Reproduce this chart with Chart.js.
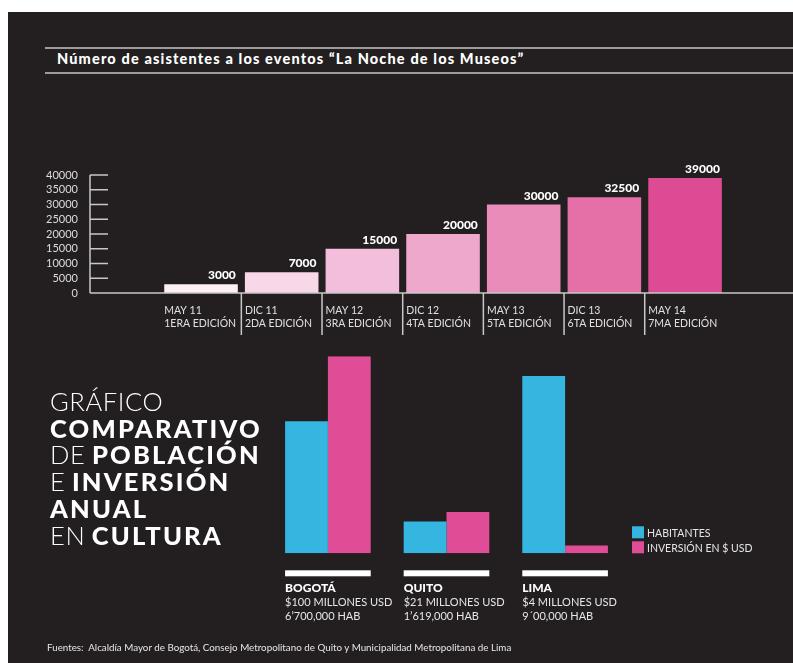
<!DOCTYPE html>
<html>
<head>
<meta charset="utf-8">
<script src="https://cdn.jsdelivr.net/npm/chart.js@4.4.1/dist/chart.umd.min.js"></script>
<style>
  html, body { margin: 0; padding: 0; background: #fff; width: 793px; height: 663px; overflow: hidden; font-family: Lato, sans-serif; }
  #panel { position: absolute; left: 8px; top: 12px; width: 785px; height: 651px; background: #231f20; }
  .rule { position: absolute; left: 45px; width: 748px; height: 2px; background: #9b9b9b; }
  #title { position: absolute; left: 57px; top: 50px; color: #fff; font-weight: 900; font-size: 14.5px; letter-spacing: 1.15px; white-space: nowrap; }
  #topChart { position: absolute; left: 0; top: 150px; }
  #bottomChart { position: absolute; left: 0; top: 340px; }
  #side { position: absolute; left: 50px; top: 388px; color: #fff; font-size: 25.5px; line-height: 26.7px; white-space: nowrap; }
  #side b { font-weight: 900; letter-spacing: 2.2px; }
  #side span { font-weight: 300; letter-spacing: 0.6px; }
  #foot { position: absolute; left: 47px; top: 641px; color: #e6e6e6; font-size: 9.8px; white-space: nowrap; }
</style>
</head>
<body>
<div id="panel"></div>
<div class="rule" style="top:47px"></div>
<div class="rule" style="top:72px"></div>
<div id="title">Número de asistentes a los eventos “La Noche de los Museos”</div>
<canvas id="topChart" width="793" height="200"></canvas>
<canvas id="bottomChart" width="793" height="300"></canvas>
<div id="side">
  <span>GRÁFICO</span><br>
  <b>COMPARATIVO</b><br>
  <span>DE</span> <b>POBLACIÓN</b><br>
  <span>E</span> <b>INVERSIÓN</b><br>
  <b>ANUAL</b><br>
  <span>EN</span> <b>CULTURA</b>
</div>
<div id="foot">Fuentes:&nbsp; Alcaldía Mayor de Bogotá, Consejo Metropolitano de Quito y Municipalidad Metropolitana de Lima</div>
<script>
// asistentes a "La Noche de los Museos"
const fechas = ["MAY 11", "DIC 11", "MAY 12", "DIC 12", "MAY 13", "DIC 13", "MAY 14"];
const ediciones = ["1ERA EDICIÓN", "2DA EDICIÓN", "3RA EDICIÓN", "4TA EDICIÓN", "5TA EDICIÓN", "6TA EDICIÓN", "7MA EDICIÓN"];
const asistentes = [3000, 7000, 15000, 20000, 30000, 32500, 39000];
const yTicks = [0, 5000, 10000, 15000, 20000, 25000, 30000, 35000, 40000];

// población vs inversión
const ciudades = ["BOGOTÁ", "QUITO", "LIMA"];
const inversionTxt = ["$100 MILLONES USD", "$21 MILLONES USD", "$4 MILLONES USD"];
const habitantesTxt = ["6’700,000 HAB", "1’619,000 HAB", "9´00,000 HAB"];
const habitantes = [6700000, 1619000, 9000000];
const inversionMillones = [100, 21, 4];
const series = ["HABITANTES", "INVERSIÓN EN $ USD"];

const pinks = ["#fcf0f6", "#f7d7e8", "#f2bedb", "#eea8cc", "#e98cba", "#e470a7", "#de4b95"];
const CYAN = "#35b6e0";
const MAGENTA = "#de4d96";
const FONT = "Lato, sans-serif";

const topDecor = {
  id: "topDecor",
  afterDatasetsDraw(chart) {
    const { ctx, scales: { x, y } } = chart;
    const y0 = y.getPixelForValue(0);
    const axisX = 90;
    ctx.save();
    ctx.strokeStyle = "#c8c8c8";
    ctx.lineWidth = 1.5;
    ctx.beginPath();
    ctx.moveTo(axisX, y.getPixelForValue(40000));
    ctx.lineTo(axisX, y0);
    yTicks.forEach(v => {
      if (v === 0) return;
      const py = y.getPixelForValue(v);
      ctx.moveTo(axisX, py);
      ctx.lineTo(axisX + 18, py);
    });
    ctx.moveTo(axisX, y0);
    ctx.lineTo(chart.width, y0);
    for (let i = 1; i < fechas.length; i++) {
      const sx = (x.getPixelForValue(i) + x.getPixelForValue(i + 1)) / 2;
      ctx.moveTo(sx, y0);
      ctx.lineTo(sx, y0 + 42);
    }
    ctx.stroke();

    const bars = chart.getDatasetMeta(0).data;
    fechas.forEach((f, i) => {
      const bar = bars[i + 1];
      const left = bar.x - bar.width / 2;
      const right = bar.x + bar.width / 2;
      ctx.fillStyle = "#e0e0e0";
      ctx.font = "10.5px " + FONT;
      ctx.textAlign = "left";
      ctx.textBaseline = "middle";
      ctx.fillText(f, left, y0 + 18);
      ctx.fillText(ediciones[i], left, y0 + 31);
      ctx.fillStyle = "#ffffff";
      ctx.font = "900 12px " + FONT;
      ctx.textAlign = "right";
      ctx.textBaseline = "alphabetic";
      ctx.fillText(String(asistentes[i]), right - 2, bar.y - 5);
    });
    ctx.restore();
  }
};

new Chart(document.getElementById("topChart"), {
  type: "bar",
  data: {
    labels: ["", ...fechas],
    datasets: [{
      data: [null, ...asistentes],
      backgroundColor: ["transparent", ...pinks],
      borderWidth: 0,
      barPercentage: 0.912,
      categoryPercentage: 1.0,
    }],
  },
  options: {
    responsive: false,
    animation: false,
    layout: { padding: { top: 25, bottom: 57, right: 67.6, left: 0 } },
    plugins: { legend: { display: false }, tooltip: { enabled: false } },
    scales: {
      x: { display: false },
      y: {
        min: 0, max: 40000,
        afterFit: s => { s.width = 80; },
        afterBuildTicks: s => { s.ticks = yTicks.map(v => ({ value: v })); },
        grid: { display: false, drawTicks: false },
        border: { display: false },
        ticks: {
          autoSkip: false,
          padding: 2,
          color: "#dcdcdc",
          font: { family: FONT, size: 11 },
          callback: v => String(v),
        },
      },
    },
  },
  plugins: [topDecor],
});

const bottomDecor = {
  id: "bottomDecor",
  afterDatasetsDraw(chart) {
    const { ctx, chartArea } = chart;
    const hab = chart.getDatasetMeta(0).data;
    const inv = chart.getDatasetMeta(1).data;
    const base = chartArea.bottom;
    ctx.save();
    ciudades.forEach((c, i) => {
      const left = hab[i].x - hab[i].width / 2;
      const right = inv[i].x + inv[i].width / 2;
      ctx.fillStyle = "#ffffff";
      ctx.fillRect(left, base + 17, right - left, 6);
      ctx.textAlign = "left";
      ctx.textBaseline = "middle";
      ctx.font = "900 12px " + FONT;
      ctx.fillText(c, left, base + 35);
      ctx.fillStyle = "#e6e6e6";
      ctx.font = "11px " + FONT;
      ctx.fillText(inversionTxt[i], left, base + 49.5);
      ctx.fillText(habitantesTxt[i], left, base + 63.5);
    });
    // leyenda
    [CYAN, MAGENTA].forEach((col, k) => {
      const top = base - 27 + k * 15;
      ctx.fillStyle = col;
      ctx.fillRect(632, top, 12, 12);
      ctx.fillStyle = "#e6e6e6";
      ctx.font = "10.5px " + FONT;
      ctx.textAlign = "left";
      ctx.textBaseline = "middle";
      ctx.fillText(series[k], 647, top + 7);
    });
    ctx.restore();
  }
};

new Chart(document.getElementById("bottomChart"), {
  type: "bar",
  data: {
    labels: ciudades,
    datasets: [
      { label: series[0], data: habitantes, yAxisID: "yHab", backgroundColor: CYAN, borderWidth: 0 },
      { label: series[1], data: inversionMillones, yAxisID: "yInv", backgroundColor: MAGENTA, borderWidth: 0 },
    ],
  },
  options: {
    responsive: false,
    animation: false,
    datasets: { bar: { categoryPercentage: 0.722, barPercentage: 1.0 } },
    layout: { padding: { top: 16.3, bottom: 86.7, left: 268.6, right: 168.6 } },
    plugins: { legend: { display: false }, tooltip: { enabled: false } },
    scales: {
      x: { display: false },
      yHab: { display: false, min: 0, max: 10000000 },
      yInv: { display: false, min: 0, max: 100 },
    },
  },
  plugins: [bottomDecor],
});
</script>
</body>
</html>
